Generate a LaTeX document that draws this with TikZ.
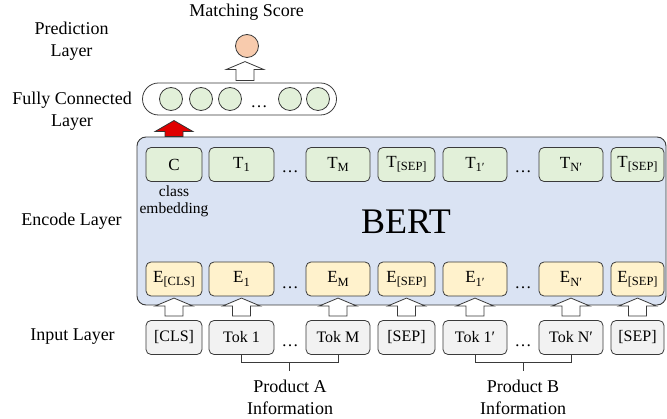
\documentclass[tikz,border=0pt]{standalone}
\usepackage{fontspec}
\setmainfont{Liberation Serif}
\usetikzlibrary{calc}
\definecolor{bertblue}{HTML}{DAE3F3}
\definecolor{tgreen}{HTML}{E2F0D9}
\definecolor{eyellow}{HTML}{FFF2CC}
\definecolor{igray}{HTML}{F2F2F2}
\definecolor{predorange}{HTML}{F8CBAD}
\definecolor{boxline}{HTML}{3A3A3A}
\definecolor{arrred}{HTML}{E00000}
\newcommand{\sbs}[1]{\raisebox{-3.2pt}{\fontsize{12.5}{13}\selectfont #1}}
\begin{document}
\begin{tikzpicture}[x=1pt,y=-1pt,
  lbl/.style={font=\fontsize{18}{22}\selectfont, align=center, inner sep=0pt},
  box/.style={draw=boxline, line width=0.8pt, rounded corners=5pt, inner sep=0pt, minimum height=34pt, font=\fontsize{17}{19}\selectfont},
  tbox/.style={box, fill=tgreen},
  ebox/.style={box, fill=eyellow},
  ibox/.style={box, fill=igray, font=\fontsize{16}{18}\selectfont},
  fcc/.style={circle, draw=boxline, line width=0.8pt, fill=tgreen, minimum size=23pt, inner sep=0pt},
  dotsn/.style={font=\fontsize{17}{19}\selectfont, inner sep=0pt, anchor=base},
  barrow/.style={draw=boxline, line width=0.8pt, fill=white, line join=miter},
  redarrow/.style={draw=black!80, line width=0.8pt, fill=arrred, line join=miter},
  pics/blockarrow/.style n args={3}{code={\path[#3] (-9pt,0pt) -- (-9pt,#1) -- (-19pt,#1) -- (0pt,#2) -- (19pt,#1) -- (9pt,#1) -- (9pt,0pt) -- cycle;}},
]
\useasboundingbox (0,0) rectangle (667,419);

% left labels
\node[lbl] (lpred) at (71.5,41) {Prediction\\Layer};
\node[lbl] (lfc) at (72,111.5) {Fully Connected\\Layer};
\node[lbl] (lenc) at (71.5,221) {Encode Layer};
\node[lbl] (linp) at (72.5,337) {Input Layer};
\node[lbl] (lms) at (246.5,12) {Matching Score};

% BERT box
\node[draw=boxline, line width=0.9pt, fill=bertblue, rounded corners=9pt, minimum width=529pt, minimum height=168pt, inner sep=0pt] (bert) at (401.5,221) {};
\node[font=\fontsize{36}{40}\selectfont, inner sep=0pt] (berttxt) at (406,222) {BERT};

% T row
\node[tbox, minimum width=56pt] (t0) at (174,164.5) {C};
\node[tbox, minimum width=65pt] (t1) at (241.5,164.5) {T\sbs{1}};
\node[dotsn] (td1) at (290,173) {…};
\node[tbox, minimum width=64pt] (tm) at (338,164.5) {T\sbs{M}};
\node[tbox, minimum width=57pt] (ts1) at (406.5,164.5) {T\sbs{[SEP]}};
\node[tbox, minimum width=64pt] (t1p) at (475,164.5) {T\sbs{1′}};
\node[dotsn] (td2) at (523,173) {…};
\node[tbox, minimum width=64pt] (tn) at (571,164.5) {T\sbs{N′}};
\node[tbox, minimum width=53pt] (ts2) at (637.5,164.5) {T\sbs{[SEP]}};
\node[font=\fontsize{15.5}{17}\selectfont, align=center, inner sep=0pt] (clsemb) at (174,201.5) {class\\embedding};

% E row
\node[ebox, minimum width=56pt] (e0) at (174,279) {E\sbs{[CLS]}};
\node[ebox, minimum width=65pt] (e1) at (241.5,279) {E\sbs{1}};
\node[dotsn] (ed1) at (290,289) {…};
\node[ebox, minimum width=64pt] (em) at (338,279) {E\sbs{M}};
\node[ebox, minimum width=57pt] (es1) at (406.5,279) {E\sbs{[SEP]}};
\node[ebox, minimum width=64pt] (e1p) at (475,279) {E\sbs{1′}};
\node[dotsn] (ed2) at (523,289) {…};
\node[ebox, minimum width=64pt] (en) at (571,279) {E\sbs{N′}};
\node[ebox, minimum width=53pt] (es2) at (637.5,279) {E\sbs{[SEP]}};

% Input row
\node[ibox, minimum width=56pt] (i0) at (174,337.5) {[CLS]};
\node[ibox, minimum width=65pt] (i1) at (241.5,337.5) {Tok 1};
\node[dotsn] (id1) at (290,347) {…};
\node[ibox, minimum width=64pt] (im) at (338,337.5) {Tok M};
\node[ibox, minimum width=57pt] (is1) at (406.5,337.5) {[SEP]};
\node[ibox, minimum width=64pt] (i1p) at (475,337.5) {Tok 1′};
\node[dotsn] (id2) at (523,347) {…};
\node[ibox, minimum width=64pt] (in) at (571,337.5) {Tok N′};
\node[ibox, minimum width=53pt] (is2) at (637.5,337.5) {[SEP]};

% input arrows
\foreach \n in {i0,i1,im,is1,i1p,in,is2}{
  \pic at ($(\n.north)+(0,-4)$) {blockarrow={10pt}{18pt}{barrow}};
}

% brackets
\draw[boxline, line width=0.8pt] (i1.south) -- ++(0,8) coordinate (ba1) -- (ba1 -| im.south) -- (im.south);
\draw[boxline, line width=0.8pt] ($(ba1)!0.5!(ba1 -| im.south)$) -- ++(0,8);
\draw[boxline, line width=0.8pt] (i1p.south) -- ++(0,8) coordinate (bb1) -- (bb1 -| in.south) -- (in.south);
\draw[boxline, line width=0.8pt] ($(bb1)!0.5!(bb1 -| in.south)$) -- ++(0,8);
\node[lbl] (pa) at (290,397) {Product A\\Information};
\node[lbl] (pb) at (523,397) {Product B\\Information};

% FC layer
\node[draw=boxline, line width=0.8pt, fill=white, rounded corners=16pt, minimum width=194pt, minimum height=32pt, inner sep=0pt] (fc) at (239.5,99) {};
\node[fcc] (f1) at (171,99) {};
\node[fcc] (f2) at (201,99) {};
\node[fcc] (f3) at (230,99) {};
\node[dotsn] (fd) at (259,108) {…};
\node[fcc] (f4) at (290,99) {};
\node[fcc] (f5) at (318,99) {};

% prediction
\node[circle, draw=boxline, line width=0.8pt, fill=predorange, minimum size=23pt, inner sep=0pt] (pred) at (247,46) {};
\pic at ($(pred.south |- fc.north)+(-2,-2)$) {blockarrow={11pt}{19pt}{barrow}};

% red arrow
\pic at (t0.north |- bert.north) {blockarrow={5pt}{16pt}{redarrow}};
\end{tikzpicture}
\end{document}
